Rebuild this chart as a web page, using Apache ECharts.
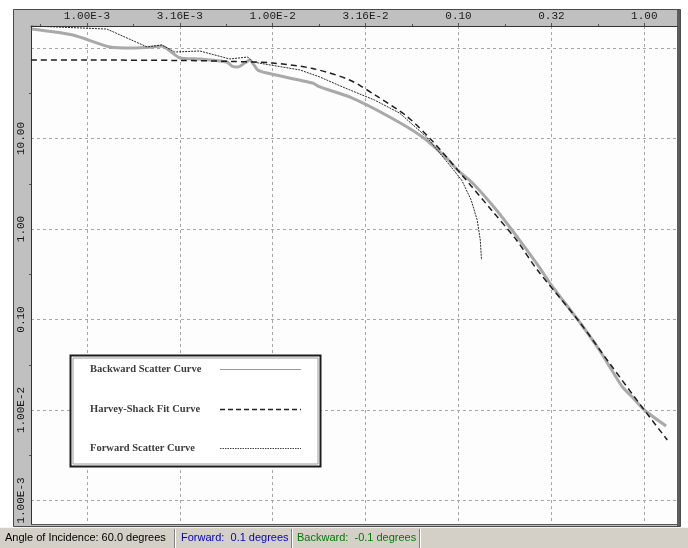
<!DOCTYPE html>
<html>
<head>
<meta charset="utf-8">
<style>
  html, body { margin: 0; padding: 0; background: #fff; }
  #chart { width: 688px; height: 548px; }
</style>
<script src="https://cdn.jsdelivr.net/npm/echarts@6/dist/echarts.min.js"></script>
</head>
<body>
<div id="chart"></div>
<script>
// scatter angle (x) vs. BSDF (y), both
const backwardX = [5.06e-4, 8.4e-4, 1.33e-3, 1.77e-3, 2.26e-3, 2.53e-3, 3.16e-3, 4.05e-3, 5.66e-3, 6.03e-3,
  6.49e-3, 7.07e-3, 7.52e-3, 8.3e-3, 9.29e-3, 1.64e-2, 1.79e-2, 2.59e-2, 4.26e-2, 6.4e-2,
  8.61e-2, 9.88e-2, 0.119, 0.16, 0.213, 0.272, 0.316, 0.448, 0.573, 0.762, 0.862, 1.0, 1.31];
const backwardY = [162, 139, 102.6, 100, 102.6, 105, 77.6, 75.6, 70, 63.2,
  61.6, 68.2, 73.6, 57.2, 53, 41, 37.1, 28.8, 17.3, 10.4,
  6.1, 4.49, 3.22, 1.62, 0.755, 0.38, 0.24, 0.0938, 0.046, 0.018, 0.0139, 0.01, 0.00665];

const harveyX = [5e-4, 1e-3, 3.16e-3, 6.1e-3, 1e-2, 1.64e-2, 2.59e-2, 3.62e-2, 5.25e-2, 7.24e-2,
  0.101, 0.152, 0.205, 0.266, 0.448, 0.649, 1.0, 1.33];
const harveyY = [73.6, 73.6, 72.8, 71.0, 68.2, 59.3, 44.3, 29.5, 17.7, 9.37,
  4.27, 1.58, 0.755, 0.352, 0.0938, 0.033, 0.01, 0.00467];

const forwardX = [5.06e-4, 1.28e-3, 2.11e-3, 2.53e-3, 2.97e-3, 4.05e-3, 5.88e-3, 7.34e-3, 7.8e-3, 1.4e-2,
  1.79e-2, 2.38e-2, 3.53e-2, 4.82e-2, 6.73e-2, 8.95e-2, 0.104, 0.117, 0.126, 0.131, 0.133];
const forwardY = [175, 162, 102.6, 108, 90.3, 92.6, 75.6, 79.5, 70, 57.2,
  47.9, 37.1, 26.6, 19.1, 10.4, 5.09, 3.47, 2.09, 1.26, 0.755, 0.454];

const seriesNames = ['Backward Scatter Curve', 'Harvey-Shack Fit Curve', 'Forward Scatter Curve'];

const xRange = [5e-4, 1.5];
const yRange = [5.5e-4, 175];
const xTickValues = [1e-3, 3.162e-3, 1e-2, 3.162e-2, 0.1, 0.3162, 1];
const xTickLabels = ['1.00E-3', '3.16E-3', '1.00E-2', '3.16E-2', '0.10', '0.32', '1.00'];
const xMinorTicks = [5.62e-4, 1.778e-3, 5.62e-3, 1.778e-2, 5.62e-2, 0.1778, 0.562];
const yTickValues = [1e-3, 1e-2, 0.1, 1, 10];
const yTickLabels = ['1.00E-3', '1.00E-2', '0.10', '1.00', '10.00'];
const yGridValues = [1e-3, 1e-2, 0.1, 1, 10, 100];
const yMinorTicks = [3.162e-3, 3.162e-2, 0.3162, 3.162, 31.62];

const statusTexts = ['Angle of Incidence: 60.0 degrees', 'Forward:  0.1 degrees', 'Backward:  -0.1 degrees'];

const lg = Math.log10;
const toPoints = (xs, ys) => xs.map((x, i) => [lg(x), lg(ys[i])]);
const labelFor = (values, labels) => (v) => {
  const i = values.findIndex((t) => Math.abs(lg(t) - v) < 1e-9);
  return i < 0 ? '' : labels[i];
};

const monoFont = { fontFamily: 'Liberation Mono', fontSize: 11, color: '#1a1a1a' };
const gridLine = { show: true, lineStyle: { color: '#a6a6a6', type: [3, 3], width: 1 } };

// legend drawn by hand: text on the left, line sample on the right
const legendLines = [
  { stroke: '#9a9a9a', lineWidth: 1 },
  { stroke: '#222', lineWidth: 1.5, lineDash: [5, 3] },
  { stroke: '#444', lineWidth: 1, lineDash: [1.5, 1] },
];
const legendRows = [369, 409, 448];
const legendGraphic = [
  { type: 'rect', z: 100, shape: { x: 70.5, y: 355.5, width: 250, height: 111 },
    style: { fill: '#fff', stroke: '#1c1c1c', lineWidth: 2 } },
  { type: 'rect', z: 100, shape: { x: 73, y: 358, width: 245, height: 106 },
    style: { fill: 'none', stroke: '#9a9a9a', lineWidth: 1 } },
];
seriesNames.forEach((name, i) => {
  legendGraphic.push({ type: 'text', z: 101, x: 90, y: legendRows[i],
    style: { text: name, fill: '#3c3c3c', font: 'bold 10.5px "Liberation Serif"', verticalAlign: 'middle' } });
  legendGraphic.push({ type: 'line', z: 101,
    shape: { x1: 220, y1: legendRows[i] + 0.5, x2: 301, y2: legendRows[i] + 0.5 }, style: legendLines[i] });
});

const statusColors = ['#000', '#0000c8', '#007a00'];
const statusX = [5, 181, 297];
const statusSeps = [174, 291, 419];
const statusGraphic = [
  { type: 'rect', z: -10, shape: { x: 0, y: 527, width: 688, height: 21 }, style: { fill: '#d4d0c8' } },
  { type: 'line', z: -9, shape: { x1: 0, y1: 527.5, x2: 688, y2: 527.5 }, style: { stroke: '#f4f4f4', lineWidth: 1 } },
];
statusTexts.forEach((t, i) => {
  statusGraphic.push({ type: 'text', z: -8, x: statusX[i], y: 538,
    style: { text: t, fill: statusColors[i], font: '11px "Liberation Sans"', verticalAlign: 'middle' } });
});
statusSeps.forEach((sx) => {
  statusGraphic.push({ type: 'line', z: -8, shape: { x1: sx + 0.5, y1: 529, x2: sx + 0.5, y2: 548 }, style: { stroke: '#808080' } });
  statusGraphic.push({ type: 'line', z: -8, shape: { x1: sx + 1.5, y1: 529, x2: sx + 1.5, y2: 548 }, style: { stroke: '#fff' } });
});

const chart = echarts.init(document.getElementById('chart'));

chart.setOption({
  animation: false,
  backgroundColor: '#fff',
  grid: { left: 31, right: 11, top: 26, bottom: 24 },
  xAxis: [
    {
      type: 'value', position: 'top',
      min: lg(xRange[0]), max: lg(xRange[1]),
      axisLine: { show: true, onZero: false, lineStyle: { color: '#333' } },
      axisTick: { show: true, customValues: xTickValues.map(lg), length: 3, lineStyle: { color: '#555' } },
      axisLabel: { customValues: xTickValues.map(lg), formatter: labelFor(xTickValues, xTickLabels), margin: 4, ...monoFont },
      splitLine: gridLine,
    },
    {
      type: 'value', position: 'top',
      min: lg(xRange[0]), max: lg(xRange[1]),
      axisLine: { show: false, onZero: false },
      axisTick: { show: true, customValues: xMinorTicks.map(lg), length: 2, lineStyle: { color: '#555' } },
      axisLabel: { show: false },
      splitLine: { show: false },
    },
  ],
  yAxis: [
    {
      type: 'value', position: 'left',
      min: lg(yRange[0]), max: lg(yRange[1]),
      axisLine: { show: true, onZero: false, lineStyle: { color: '#333' } },
      axisTick: { show: false, customValues: yGridValues.map(lg) },
      axisLabel: { customValues: yTickValues.map(lg), formatter: labelFor(yTickValues, yTickLabels), rotate: 90, margin: 4, ...monoFont },
      splitLine: gridLine,
    },
    {
      type: 'value', position: 'left',
      min: lg(yRange[0]), max: lg(yRange[1]),
      axisLine: { show: false, onZero: false },
      axisTick: { show: true, customValues: yMinorTicks.map(lg), length: 2, lineStyle: { color: '#555' } },
      axisLabel: { show: false },
      splitLine: { show: false },
    },
  ],
  graphic: [
    { type: 'rect', z: -10, shape: { x: 13.5, y: 9.5, width: 667, height: 517 },
      style: { fill: '#c0c0c0', stroke: '#4a4a4a', lineWidth: 1 } },
    { type: 'rect', z: -9, shape: { x: 31, y: 26, width: 646, height: 498 }, style: { fill: '#fdfdfd' } },
    { type: 'rect', z: -9, shape: { x: 677, y: 10, width: 3, height: 516 }, style: { fill: '#5c5c5c' } },
    { type: 'line', z: -9, shape: { x1: 31, y1: 524.5, x2: 677, y2: 524.5 }, style: { stroke: '#555' } },
    ...statusGraphic,
    ...legendGraphic,
  ],
  series: [
    {
      name: seriesNames[0], type: 'line', xAxisIndex: 0, yAxisIndex: 0,
      data: toPoints(backwardX, backwardY),
      symbol: 'none', smooth: 0.2, z: 2,
      lineStyle: { color: '#a9a9a9', width: 3 },
    },
    {
      name: seriesNames[1], type: 'line', xAxisIndex: 0, yAxisIndex: 0,
      data: toPoints(harveyX, harveyY),
      symbol: 'none', smooth: 0.3, z: 3,
      lineStyle: { color: '#1e1e1e', width: 1.5, type: [6, 4] },
    },
    {
      name: seriesNames[2], type: 'line', xAxisIndex: 0, yAxisIndex: 0,
      data: toPoints(forwardX, forwardY),
      symbol: 'none', smooth: false, z: 4,
      lineStyle: { color: '#2a2a2a', width: 1, type: [2, 1] },
    },
  ],
});
</script>
</body>
</html>
